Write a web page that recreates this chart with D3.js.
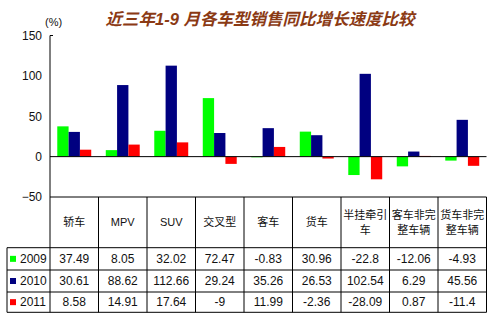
<!DOCTYPE html>
<html>
<head>
<meta charset="utf-8">
<script src="https://cdn.jsdelivr.net/npm/d3@7/dist/d3.min.js"></script>
<style>
  html, body { margin: 0; padding: 0; background: #fff; }
  svg { display: block; }
  text { font-family: "Liberation Sans", Arial, "Noto Sans CJK SC", sans-serif; }
</style>
</head>
<body>
<svg id="chart" width="500" height="329"></svg>
<script>
// Vehicle categories (column headers; multi-line headers split into lines)
const categories = ["轿车", "MPV", "SUV", "交叉型", "客车", "货车", "半挂牵引车", "客车非完整车辆", "货车非完整车辆"];
const categoryLines = [["轿车"], ["MPV"], ["SUV"], ["交叉型"], ["客车"], ["货车"], ["半挂牵引", "车"], ["客车非完", "整车辆"], ["货车非完", "整车辆"]];
const years = ["2009", "2010", "2011"];
// Year-on-year growth, Jan–Sep, in percent
const values2009 = [37.49, 8.05, 32.02, 72.47, -0.83, 30.96, -22.8, -12.06, -4.93];
const values2010 = [30.61, 88.62, 112.66, 29.24, 35.26, 26.53, 102.54, 6.29, 45.56];
const values2011 = [8.58, 14.91, 17.64, -9, 11.99, -2.36, -28.09, 0.87, -11.4];
const yTicks = [-50, 0, 50, 100, 150];
const colors = ["#00ff00", "#000080", "#ff0000"];

const series = [values2009, values2010, values2011];
const svg = d3.select("#chart");

const plotLeft = 50, plotRight = 486.5, plotTop = 35.5, plotBottom = 197;
const tableLeft = 7;
const rowEdges = [plotBottom, 247.7, 270, 292, 312.3];

const x = d3.scaleBand().domain(categories).range([plotLeft, plotRight])
  .paddingInner(0.3).paddingOuter(0.15);
const xCol = d3.scaleBand().domain(categories).range([plotLeft, plotRight]);
const xs = d3.scaleBand().domain(years).range([0, x.bandwidth()]);
const y = d3.scaleLinear().domain([-50, 150]).range([plotBottom, plotTop]);

// Title
svg.append("text")
  .attr("x", 260).attr("y", 25)
  .attr("text-anchor", "middle")
  .attr("font-family", "'Noto Sans CJK SC', sans-serif")
  .attr("font-size", 16.5).attr("font-weight", "bold").attr("font-style", "italic")
  .attr("fill", "#8b3a14")
  .text("近三年1-9 月各车型销售同比增长速度比较");

// Unit label
svg.append("text")
  .attr("x", 45).attr("y", 26)
  .attr("font-size", 11).attr("fill", "#111")
  .text("(%)");

// Bars
const groups = svg.append("g").selectAll("g")
  .data(categories).join("g")
  .attr("transform", d => `translate(${x(d)},0)`);
groups.selectAll("rect")
  .data((d, i) => years.map((yr, k) => ({ yr, v: series[k][i], k })))
  .join("rect")
  .attr("x", d => xs(d.yr))
  .attr("width", xs.bandwidth())
  .attr("y", d => y(Math.max(0, d.v)))
  .attr("height", d => Math.abs(y(d.v) - y(0)))
  .attr("fill", d => colors[d.k]);

// Y axis labels
const yAxis = d3.axisLeft(y).tickValues(yTicks).tickSize(0).tickPadding(8);
const gy = svg.append("g").attr("transform", `translate(${plotLeft},0)`).call(yAxis);
gy.select(".domain").remove();
gy.selectAll("text")
  .attr("font-size", 12).attr("fill", "#111")
  .attr("font-family", "'Liberation Sans', Arial, sans-serif");

const lines = svg.append("g").attr("stroke", "#000").attr("stroke-width", 1).attr("fill", "none");
// Vertical axis and top cap
lines.append("line").attr("x1", plotLeft).attr("x2", plotLeft).attr("y1", y(150)).attr("y2", rowEdges[4]);
lines.append("line").attr("x1", plotLeft).attr("x2", plotLeft + 3).attr("y1", y(150)).attr("y2", y(150));
// Zero line
lines.append("line").attr("x1", plotLeft).attr("x2", plotRight).attr("y1", y(0)).attr("y2", y(0));

// Data table grid
rowEdges.forEach((ry, i) => {
  lines.append("line")
    .attr("x1", i === 0 ? plotLeft : tableLeft).attr("x2", plotRight)
    .attr("y1", ry).attr("y2", ry);
});
lines.append("line").attr("x1", tableLeft).attr("x2", tableLeft).attr("y1", rowEdges[1]).attr("y2", rowEdges[4]);
categories.forEach(c => {
  const xr = xCol(c) + xCol.bandwidth();
  lines.append("line").attr("x1", xr).attr("x2", xr).attr("y1", rowEdges[0]).attr("y2", rowEdges[4]);
});

// Header row
const headerMid = (rowEdges[0] + rowEdges[1]) / 2;
categories.forEach((c, i) => {
  const ls = categoryLines[i];
  const cx = xCol(c) + xCol.bandwidth() / 2;
  ls.forEach((t, j) => {
    svg.append("text")
      .attr("x", cx)
      .attr("y", headerMid + (j - (ls.length - 1) / 2) * 15)
      .attr("dy", "0.36em")
      .attr("text-anchor", "middle")
      .attr("font-size", 11).attr("fill", "#111")
      .attr("font-family", "'Liberation Sans', Arial, 'Noto Sans CJK SC', sans-serif")
      .text(t);
  });
});

// Value rows with legend keys
years.forEach((yr, k) => {
  const cy = (rowEdges[k + 1] + rowEdges[k + 2]) / 2;
  svg.append("rect")
    .attr("x", 10).attr("y", cy - 3).attr("width", 6).attr("height", 6)
    .attr("fill", colors[k]);
  svg.append("text")
    .attr("x", 20).attr("y", cy).attr("dy", "0.36em")
    .attr("font-size", 12).attr("fill", "#111")
    .text(yr);
  categories.forEach((c, i) => {
    svg.append("text")
      .attr("x", xCol(c) + xCol.bandwidth() / 2).attr("y", cy).attr("dy", "0.36em")
      .attr("text-anchor", "middle")
      .attr("font-size", 12).attr("fill", "#111")
      .text(series[k][i]);
  });
});
</script>
</body>
</html>
